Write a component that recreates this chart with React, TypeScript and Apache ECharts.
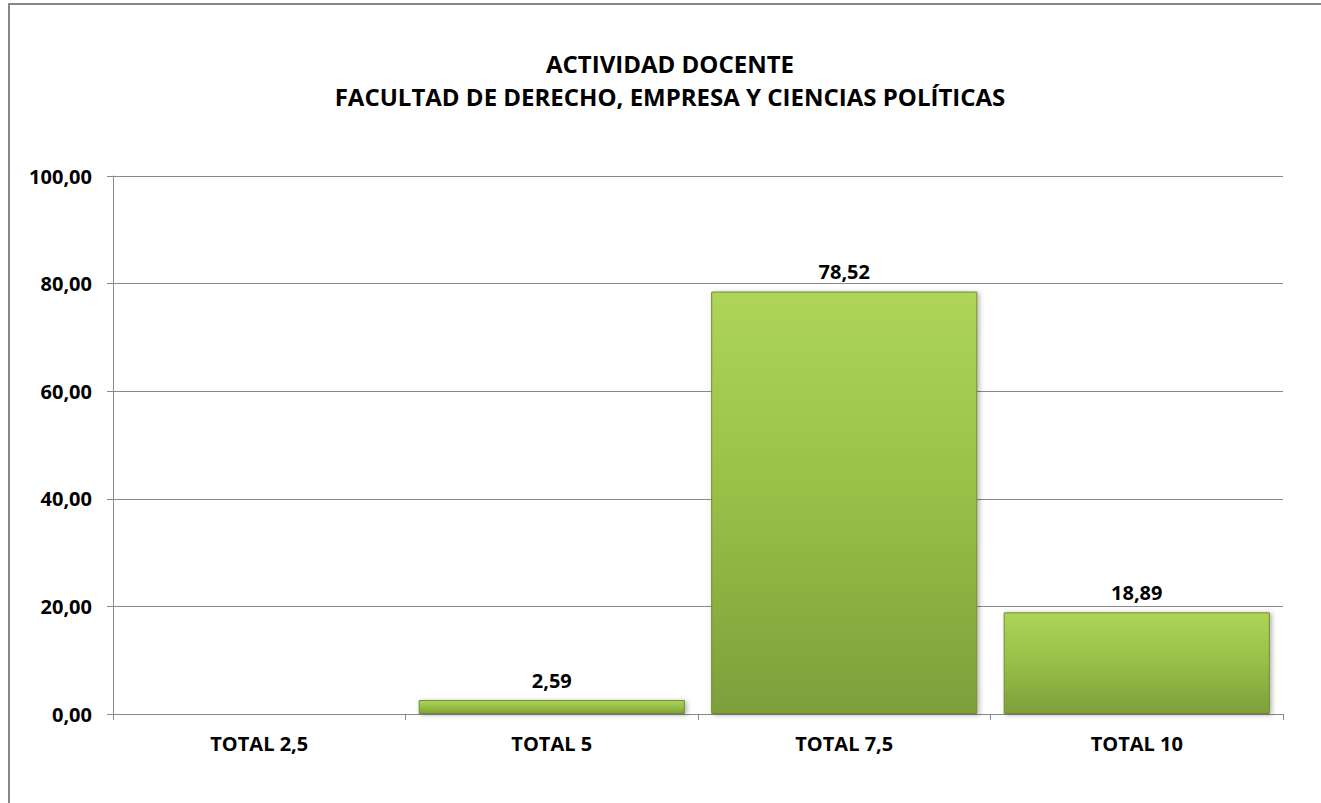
import React, { useEffect, useRef } from "react";
import * as echarts from "echarts";

const titleLines = ["ACTIVIDAD DOCENTE", "FACULTAD DE DERECHO, EMPRESA Y CIENCIAS POLÍTICAS"];
const categories = ["TOTAL 2,5", "TOTAL 5", "TOTAL 7,5", "TOTAL 10"];
const values = [0, 2.59, 78.52, 18.89];
const yTicks = { min: 0, max: 100, interval: 20 };

const fmt = (v: number) => v.toFixed(2).replace(".", ",");
const FONT = "'Open Sans', Lato, sans-serif";

export default function App() {
  const ref = useRef<HTMLDivElement>(null);
  useEffect(() => {
    if (!ref.current) return;
    const chart = echarts.init(ref.current, null, { renderer: "svg" });
    chart.setOption({
      animation: false,
      backgroundColor: "#ffffff",
      title: {
        text: titleLines.join("\n"),
        left: 665,
        textAlign: "center",
        top: 42,
        textStyle: {
          fontFamily: FONT,
          fontSize: 24,
          fontWeight: "bold",
          color: "#000",
          lineHeight: 33,
        },
      },
      graphic: [
        {
          type: "rect",
          shape: { x: 9, y: 4, width: 1340, height: 830 },
          style: { fill: "none", stroke: "#868686", lineWidth: 2 },
          silent: true,
          z: -10,
        },
      ],
      grid: { left: 113, right: 38, top: 176, bottom: 89, containLabel: false },
      xAxis: {
        type: "category",
        data: categories,
        axisLine: { show: true, lineStyle: { color: "#898989", width: 1 } },
        axisTick: { show: true, alignWithLabel: false, length: 6, lineStyle: { color: "#898989" } },
        axisLabel: {
          fontFamily: FONT,
          fontSize: 20,
          fontWeight: "bold",
          color: "#000",
          margin: 19,
        },
      },
      yAxis: {
        type: "value",
        min: yTicks.min,
        max: yTicks.max,
        interval: yTicks.interval,
        axisLine: { show: true, lineStyle: { color: "#898989", width: 1 } },
        axisTick: { show: true, length: 6, lineStyle: { color: "#898989" } },
        splitLine: { show: true, lineStyle: { color: "#898989", width: 1 } },
        axisLabel: {
          fontFamily: FONT,
          fontSize: 20,
          fontWeight: "bold",
          color: "#000",
          margin: 21,
          formatter: (v: number) => fmt(v),
        },
      },
      series: [
        {
          type: "bar",
          data: values,
          barCategoryGap: "9%",
          itemStyle: {
            color: new echarts.graphic.LinearGradient(0, 0, 0, 1, [
              { offset: 0, color: "#aed559" },
              { offset: 0.5, color: "#97bf46" },
              { offset: 1, color: "#7e9e3b" },
            ]),
            borderColor: "#6f8c2f",
            borderWidth: 1,
            shadowColor: "rgba(0,0,0,0.3)",
            shadowBlur: 5,
            shadowOffsetX: 2,
            shadowOffsetY: 1,
          },
          label: {
            show: true,
            position: "top",
            distance: 10,
            fontFamily: FONT,
            fontSize: 20,
            fontWeight: "bold",
            color: "#000",
            formatter: (p: any) => (p.value === 0 ? "" : fmt(p.value)),
          },
        },
      ],
    });
    return () => chart.dispose();
  }, []);
  return (
    <div
      ref={ref}
      style={{ position: "fixed", left: 0, top: 0, width: 1321, height: 803 }}
    />
  );
}
